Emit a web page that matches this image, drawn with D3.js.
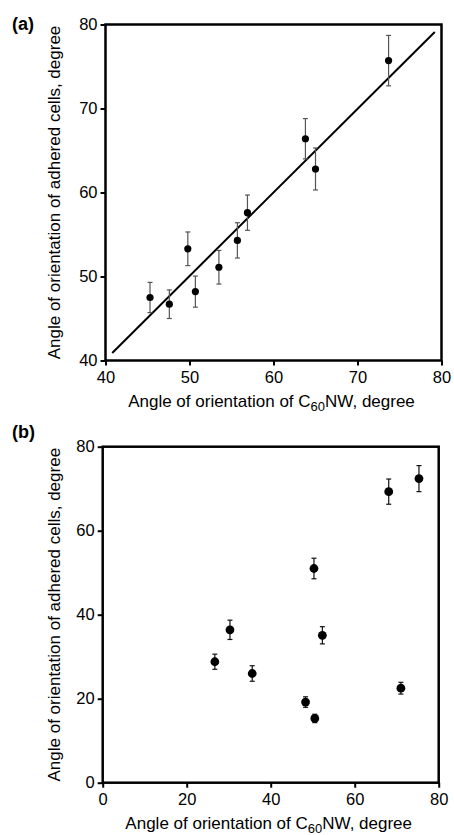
<!DOCTYPE html>
<html>
  <head>
    <meta charset="utf-8">
    <title>Angle of orientation</title>
    <script src="https://d3js.org/d3.v7.min.js"></script>
    <style>
      body { margin: 0; background: #fff; }
      svg { font-family: "Liberation Sans", Arial, sans-serif; }
      .tick text { font-size: 16.5px; fill: #000; }
    </style>
  </head>
  <body>
    <svg id="chart" width="454" height="835"></svg>
    <script>
      // panel (a): C60NW angle, cell angle, error
      var aX = [45.3, 47.6, 49.8, 50.7, 53.5, 55.7, 56.9, 63.8, 65.0, 73.7];
      var aY = [47.5, 46.7, 53.3, 48.2, 51.1, 54.3, 57.6, 66.4, 62.8, 75.7];
      var aErr = [1.8, 1.7, 2.0, 1.85, 2.0, 2.1, 2.1, 2.4, 2.5, 3.0];
      var aFit = [[40.8, 40.9], [79.2, 79.1]];
      var aTicks = [40, 50, 60, 70, 80];
      // panel (b)
      var bX = [26.7, 30.3, 35.6, 48.3, 50.3, 50.5, 52.3, 68.1, 71.0, 75.3];
      var bY = [28.8, 36.4, 26.0, 19.2, 51.0, 15.3, 35.1, 69.3, 22.5, 72.4];
      var bErr = [1.8, 2.3, 1.85, 1.25, 2.45, 1.0, 2.05, 3.0, 1.4, 3.1];
      var bTicks = [0, 20, 40, 60, 80];

      var svg = d3.select("#chart");
      var yTitle = "Angle of orientation of adhered cells, degree";

      function panel(opts) {
        var size = opts.size;
        var g = svg.append("g")
          .attr("transform", "translate(" + opts.left + "," + opts.top + ")");
        var x = d3.scaleLinear().domain(opts.domain).range([0, size]);
        var y = d3.scaleLinear().domain(opts.domain).range([size, 0]);

        // frame
        g.append("rect")
          .attr("width", size)
          .attr("height", size)
          .attr("fill", "none")
          .attr("stroke", "#000")
          .attr("stroke-width", 2.5);

        var xAxis = g.append("g")
          .attr("transform", "translate(0," + size + ")")
          .call(d3.axisBottom(x).tickValues(opts.ticks).tickSize(5).tickPadding(6));
        var yAxis = g.append("g")
          .call(d3.axisLeft(y).tickValues(opts.ticks).tickSize(5).tickPadding(3));
        [xAxis, yAxis].forEach(function(ax) {
          ax.select(".domain").remove();
          ax.selectAll(".tick line").attr("stroke", "#000").attr("stroke-width", 2);
        });

        if (opts.fit) {
          g.append("path")
            .datum(opts.fit)
            .attr("d", d3.line().x(function(d) { return x(d[0]); }).y(function(d) { return y(d[1]); }))
            .attr("stroke", "#000")
            .attr("stroke-width", 2)
            .attr("fill", "none");
        }

        var pts = opts.xs.map(function(v, i) { return { x: v, y: opts.ys[i], e: opts.errs[i] }; });
        var bars = g.append("g")
          .attr("stroke", opts.errColor)
          .attr("stroke-width", 1.2)
          .selectAll("g")
          .data(pts)
          .enter().append("g");
        bars.append("line")
          .attr("x1", function(d) { return x(d.x); })
          .attr("x2", function(d) { return x(d.x); })
          .attr("y1", function(d) { return y(d.y + d.e); })
          .attr("y2", function(d) { return y(d.y - d.e); });
        [1, -1].forEach(function(s) {
          bars.append("line")
            .attr("x1", function(d) { return x(d.x) - 2.5; })
            .attr("x2", function(d) { return x(d.x) + 2.5; })
            .attr("y1", function(d) { return y(d.y + s * d.e); })
            .attr("y2", function(d) { return y(d.y + s * d.e); });
        });
        g.append("g")
          .selectAll("circle")
          .data(pts)
          .enter().append("circle")
            .attr("cx", function(d) { return x(d.x); })
            .attr("cy", function(d) { return y(d.y); })
            .attr("r", opts.r)
            .attr("fill", "#000");

        // panel letter
        svg.append("text")
          .attr("x", 12)
          .attr("y", opts.top + opts.letterDy)
          .attr("font-size", 18)
          .attr("font-weight", "bold")
          .text(opts.letter);

        // axis titles
        var xt = g.append("text")
          .attr("x", size / 2 - 2)
          .attr("y", size + 46)
          .attr("text-anchor", "middle")
          .attr("font-size", 17);
        xt.append("tspan").text("Angle of orientation of C");
        xt.append("tspan").attr("font-size", 13).attr("dy", 4).text("60");
        xt.append("tspan").attr("dy", -4).text("NW, degree");

        g.append("text")
          .attr("transform", "translate(" + (60 - opts.left) + "," + (size / 2) + ") rotate(-90)")
          .attr("text-anchor", "middle")
          .attr("font-size", 17)
          .text(yTitle);
      }

      panel({ left: 105.5, top: 24.5, size: 336, domain: [40, 80], ticks: aTicks,
              xs: aX, ys: aY, errs: aErr, fit: aFit, r: 3.6, errColor: "#555",
              letter: "(a)", letterDy: 5 });
      panel({ left: 102.7, top: 446.7, size: 336, domain: [0, 80], ticks: bTicks,
              xs: bX, ys: bY, errs: bErr, fit: null, r: 4.4, errColor: "#111",
              letter: "(b)", letterDy: -8.5 });
    </script>
  </body>
</html>
